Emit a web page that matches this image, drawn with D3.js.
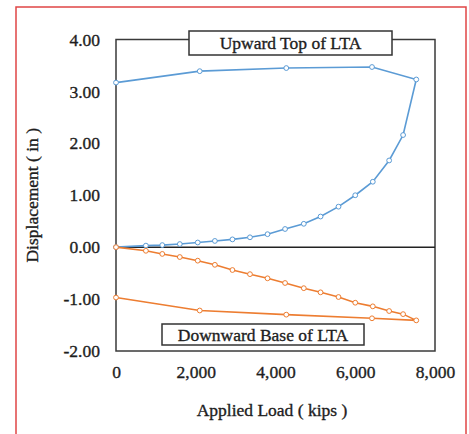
<!DOCTYPE html>
<html>
<head>
<meta charset="utf-8">
<script src="https://cdn.jsdelivr.net/npm/d3@7"></script>
<style>
  body { margin: 0; background: #fff; }
  svg text { font-family: "Liberation Serif", "Times New Roman", serif; fill: #1e1e1e; stroke: #1e1e1e; stroke-width: 0.35px; }
</style>
</head>
<body>
<div id="chart"></div>
<script>
// load steps (kips), loading up to ~7,500 then unloading back to 0
const loadKips = [0, 750, 1160, 1600, 2050, 2480, 2920, 3360, 3800, 4240, 4710, 5130, 5580, 6000, 6440, 6850, 7200, 7530, 6420, 4270, 2100, 0];
const topDisp  = [0, 0.03, 0.04, 0.06, 0.09, 0.12, 0.15, 0.19, 0.25, 0.35, 0.45, 0.59, 0.78, 1.00, 1.26, 1.67, 2.16, 3.23, 3.47, 3.45, 3.39, 3.17];
const baseDisp = [0, -0.07, -0.13, -0.19, -0.26, -0.34, -0.44, -0.52, -0.60, -0.69, -0.79, -0.87, -0.96, -1.07, -1.14, -1.23, -1.29, -1.41, -1.37, -1.30, -1.22, -0.97];

const xTicks = [0, 2000, 4000, 6000, 8000];
const xTickLabels = ["0", "2,000", "4,000", "6,000", "8,000"];
const yTicks = [4, 3, 2, 1, 0, -1, -2];
const yTickLabels = ["4.00", "3.00", "2.00", "1.00", "0.00", "-1.00", "-2.00"];

const seriesNames = ["Upward Top of LTA", "Downward Base of LTA"];
const seriesColors = ["#5b9bd5", "#ed7d31"];

const W = 469, H = 434;
const svg = d3.select("#chart").append("svg").attr("width", W).attr("height", H);

const x = d3.scaleLinear().domain([0, 8000]).range([116, 435]);
const y = d3.scaleLinear().domain([-2, 4]).range([351, 39.5]);

// red outer border (bottom edge runs off the picture)
svg.append("rect").attr("x", 16).attr("y", 7).attr("width", 450).attr("height", 460)
  .attr("fill", "none").attr("stroke", "#e04545").attr("stroke-width", 1.5);

// plot frame
svg.append("rect").attr("x", x(0)).attr("y", y(4)).attr("width", x(8000) - x(0)).attr("height", y(-2) - y(4))
  .attr("fill", "none").attr("stroke", "#3a3a3a").attr("stroke-width", 1.5);

// zero line
svg.append("line").attr("x1", x(0)).attr("x2", x(8000)).attr("y1", y(0)).attr("y2", y(0))
  .attr("stroke", "#222").attr("stroke-width", 1.5);

svg.append("g").attr("transform", `translate(${x(0)},0)`)
  .call(d3.axisLeft(y).tickValues(yTicks).tickSize(0).tickPadding(16)
    .tickFormat((d, i) => yTickLabels[i]));
svg.append("g").attr("transform", `translate(0,${y(-2)})`)
  .call(d3.axisBottom(x).tickValues(xTicks).tickSize(0).tickPadding(15)
    .tickFormat((d, i) => xTickLabels[i]));
svg.selectAll(".domain").remove();
svg.selectAll(".tick text").attr("font-size", 17.5);

const line = d3.line().x(d => x(d[0])).y(d => y(d[1]));
[topDisp, baseDisp].forEach((vals, s) => {
  const pts = loadKips.map((l, i) => [l, vals[i]]);
  svg.append("path").datum(pts).attr("d", line)
    .attr("fill", "none").attr("stroke", seriesColors[s]).attr("stroke-width", 1.6);
  svg.append("g").selectAll("circle").data(pts).join("circle")
    .attr("cx", d => x(d[0])).attr("cy", d => y(d[1])).attr("r", 2.4)
    .attr("fill", "#fff").attr("stroke", seriesColors[s]).attr("stroke-width", 1);
});

// series label boxes
const labelBoxes = [{x: 189, y: 31, w: 203, h: 24}, {x: 162, y: 324, w: 202, h: 21}];
labelBoxes.forEach((b, i) => {
  svg.append("rect").attr("x", b.x).attr("y", b.y).attr("width", b.w).attr("height", b.h)
    .attr("fill", "#fff").attr("stroke", "#333").attr("stroke-width", 1.5);
  svg.append("text").attr("x", b.x + b.w / 2).attr("y", b.y + b.h / 2).attr("dy", "0.35em")
    .attr("text-anchor", "middle").attr("font-size", 17.5).text(seriesNames[i]);
});

// axis titles
svg.append("text").attr("x", 272).attr("y", 416).attr("text-anchor", "middle")
  .attr("font-size", 17.5).text("Applied Load ( kips )");
svg.append("text").attr("transform", `translate(38,${(y(4) + y(-2)) / 2}) rotate(-90)`)
  .attr("text-anchor", "middle").attr("font-size", 17.5).text("Displacement ( in )");
</script>
</body>
</html>
